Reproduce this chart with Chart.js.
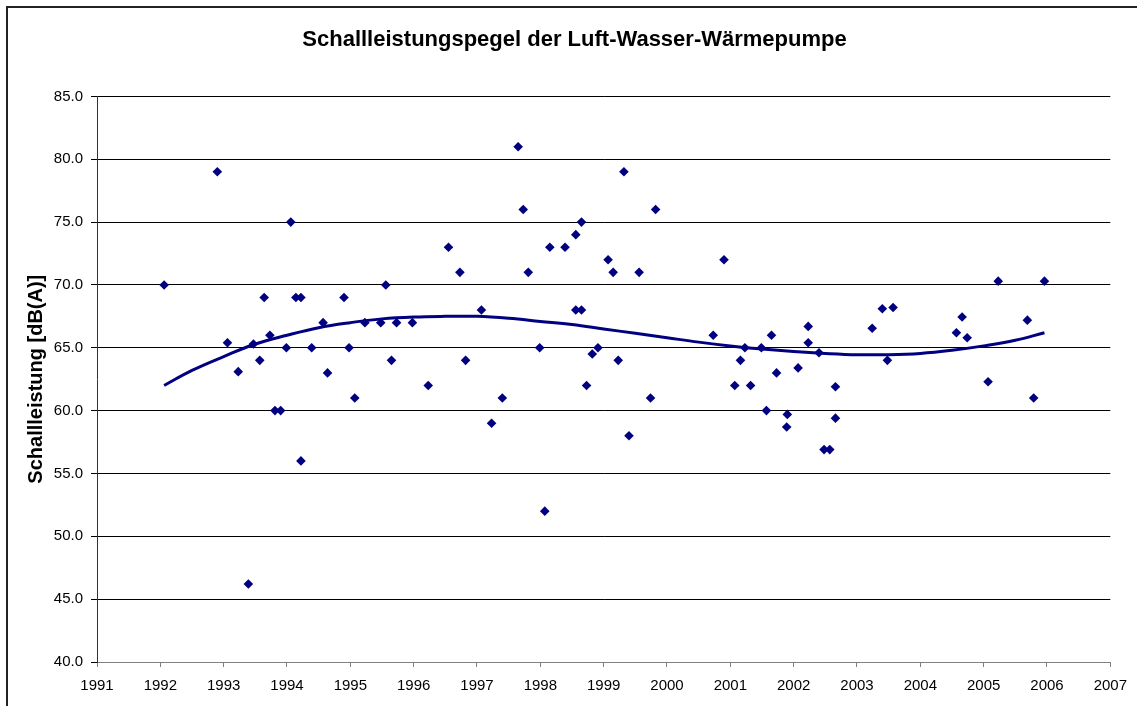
<!DOCTYPE html>
<html>
<head>
<meta charset="utf-8">
<script src="https://cdn.jsdelivr.net/npm/chart.js@4/dist/chart.umd.min.js"></script>
<style>
  html, body { margin: 0; padding: 0; background: #fff; overflow: hidden; }
  #wrap { position: relative; width: 1137px; height: 706px; }
  #frame {
    position: absolute; left: 6px; top: 6px; width: 1300px; height: 900px;
    border-left: 2px solid #222; border-top: 2px solid #222; box-sizing: border-box;
    pointer-events: none;
  }
</style>
</head>
<body>
<div id="wrap">
  <canvas id="chart"></canvas>
  <div id="frame"></div>
</div>
<script>
/* ── Data ──────────────────────────────────────────────── */
const years = [
  1992.06, 1992.90, 1993.06, 1993.23, 1993.39, 1993.47, 1993.57, 1993.64, 1993.73, 1993.81,
  1993.90, 1993.99, 1994.06, 1994.14, 1994.22, 1994.22, 1994.39, 1994.57, 1994.64, 1994.90,
  1994.98, 1995.07, 1995.23, 1995.48, 1995.56, 1995.65, 1995.73, 1995.98, 1996.23, 1996.55,
  1996.73, 1996.82, 1997.07, 1997.23, 1997.40, 1997.65, 1997.73, 1997.81, 1997.99, 1998.07,
  1998.15, 1998.39, 1998.56, 1998.56, 1998.65, 1998.65, 1998.73, 1998.82, 1998.91, 1999.07,
  1999.15, 1999.23, 1999.32, 1999.40, 1999.56, 1999.74, 1999.82, 2000.73, 2000.90, 2001.07,
  2001.16, 2001.23, 2001.32, 2001.49, 2001.57, 2001.65, 2001.73, 2001.89, 2001.90, 2002.07,
  2002.23, 2002.23, 2002.40, 2002.48, 2002.57, 2002.66, 2002.66, 2003.24, 2003.40, 2003.48,
  2003.57, 2004.57, 2004.66, 2004.74, 2005.07, 2005.23, 2005.69, 2005.79, 2005.96,
];
const levels = [
  70.0, 79.0, 65.4, 63.1, 46.2, 65.3, 64.0, 69.0, 66.0, 60.0,
  60.0, 65.0, 75.0, 69.0, 69.0, 56.0, 65.0, 67.0, 63.0, 69.0,
  65.0, 61.0, 67.0, 67.0, 70.0, 64.0, 67.0, 67.0, 62.0, 73.0,
  71.0, 64.0, 68.0, 59.0, 61.0, 81.0, 76.0, 71.0, 65.0, 52.0,
  73.0, 73.0, 74.0, 68.0, 75.0, 68.0, 62.0, 64.5, 65.0, 72.0,
  71.0, 64.0, 79.0, 58.0, 71.0, 61.0, 76.0, 66.0, 72.0, 62.0,
  64.0, 65.0, 62.0, 65.0, 60.0, 66.0, 63.0, 58.7, 59.7, 63.4,
  66.7, 65.4, 64.6, 56.9, 56.9, 61.9, 59.4, 66.55, 68.1, 64.0,
  68.2, 66.2, 67.45, 65.8, 62.3, 70.3, 67.2, 61.0, 70.3,
];

// trend curve as seen in the picture
const trendYears  = [1992.06, 1992.5, 1993, 1993.5, 1994, 1994.5, 1995, 1995.5, 1996, 1996.5,
                     1997, 1997.5, 1998, 1998.5, 1999, 1999.5, 2000, 2000.5, 2001, 2001.5,
                     2002, 2002.5, 2003, 2003.5, 2004, 2004.5, 2005, 2005.5, 2005.96];
const trendLevels = [62.0, 63.2, 64.3, 65.3, 66.0, 66.6, 67.0, 67.3, 67.45, 67.5,
                     67.5, 67.35, 67.1, 66.85, 66.5, 66.15, 65.8, 65.45, 65.15, 64.9,
                     64.7, 64.55, 64.45, 64.45, 64.55, 64.8, 65.15, 65.6, 66.2];

const xMin = 1991, xMax = 2007;
const yMin = 40, yMax = 85, yStep = 5;

const TITLE  = 'Schallleistungspegel der Luft-Wasser-Wärmepumpe';
const YTITLE = 'Schallleistung [dB(A)]';

const NAVY = '#000080';
const FONT = "'Liberation Sans', Arial, sans-serif";

Chart.defaults.font.family = FONT;
Chart.defaults.color = '#000';

new Chart(document.getElementById('chart'), {
  type: 'scatter',
  data: {
    datasets: [
      {
        label: 'Messwerte',
        data: years.map((x, i) => ({ x, y: levels[i] })),
        pointStyle: 'rectRot',
        pointRadius: 4.8,
        backgroundColor: NAVY,
        borderColor: NAVY,
        borderWidth: 0,
      },
      {
        label: 'Trend',
        data: trendYears.map((x, i) => ({ x, y: trendLevels[i] })),
        showLine: true,
        pointRadius: 0,
        borderColor: NAVY,
        borderWidth: 3,
        tension: 0.4,
        fill: false,
      },
    ],
  },
  options: {
    responsive: true,
    maintainAspectRatio: false,
    animation: false,
    layout: { padding: { left: 25, top: 0, right: 13, bottom: 0 } },
    plugins: {
      legend: { display: false },
      tooltip: { enabled: false },
      title: {
        display: true,
        text: TITLE,
        color: '#000',
        font: { size: 22, weight: 'bold', family: FONT },
        padding: { top: 27, bottom: 43 },
      },
    },
    scales: {
      x: {
        type: 'linear',
        min: xMin,
        max: xMax,
        afterFit(scale) { scale.height = 44; },
        grid: { drawOnChartArea: false, drawTicks: true, tickLength: 5, color: '#808080' },
        border: { display: true, color: '#808080', width: 1 },
        ticks: {
          stepSize: 1,
          autoSkip: false,
          maxRotation: 0,
          padding: 10,
          color: '#000',
          font: { size: 15 },
          callback: v => String(v),
        },
      },
      y: {
        min: yMin,
        max: yMax,
        afterFit(scale) { scale.width = 72; },
        grid: { color: '#000', lineWidth: 1, drawTicks: true, tickLength: 6 },
        border: { display: true, color: '#333', width: 1 },
        ticks: {
          stepSize: yStep,
          padding: 8,
          color: '#000',
          font: { size: 15 },
          callback: v => v.toFixed(1),
        },
        title: {
          display: true,
          text: YTITLE,
          color: '#000',
          font: { size: 20, weight: 'bold', family: FONT },
          padding: { top: -1, bottom: 0 },
        },
      },
    },
  },
});
</script>
</body>
</html>
